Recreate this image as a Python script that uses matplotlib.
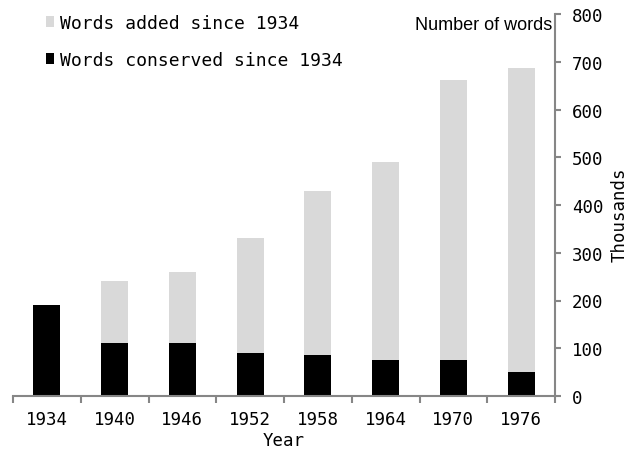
import matplotlib
matplotlib.use("Agg")
import matplotlib.pyplot as plt
import numpy as np

years = ["1934", "1940", "1946", "1952", "1958", "1964", "1970", "1976"]
totals = [190, 240, 260, 330, 430, 490, 662, 686]
conserved = [190, 110, 112, 90, 85, 75, 75, 50]
added = [t - c for t, c in zip(totals, conserved)]
yticks = [0, 100, 200, 300, 400, 500, 600, 700, 800]

mono = ["DejaVu Sans Mono"]
axis_gray = "#868686"

fig = plt.figure(figsize=(6.38, 4.52), dpi=100)
ax = fig.add_axes([13/638, 1 - 397/452, (555 - 13)/638, (397 - 15)/452])

x = np.arange(len(years))
w = 0.4
b1 = ax.bar(x, conserved, width=w, color="black", label="Words conserved since 1934", zorder=2)
b2 = ax.bar(x, added, width=w, bottom=conserved, color="#d9d9d9", label="Words added since 1934", zorder=2)

ax.set_xlim(-0.5, len(years) - 0.5)
ax.set_ylim(0, 800)

for s in ["left", "top"]:
    ax.spines[s].set_visible(False)
for s in ["right", "bottom"]:
    ax.spines[s].set_color(axis_gray)
    ax.spines[s].set_linewidth(1.5)

ax.yaxis.tick_right()
ax.set_yticks(yticks)
ax.set_yticklabels([str(v) for v in yticks], fontfamily=mono, fontsize=12.5)
ax.tick_params(axis="y", direction="out", length=4, width=1.5, color=axis_gray, pad=8, left=False, right=True)

ax.set_xticks(x)
ax.set_xticklabels(years, fontfamily=mono, fontsize=12.5)
ax.tick_params(axis="x", which="major", length=0, pad=10)
ax.set_xticks(np.arange(-0.5, len(years)), minor=True)
ax.tick_params(axis="x", which="minor", direction="out", length=5, width=1.5, color=axis_gray)

ax.set_xlabel("Year", fontfamily=mono, fontsize=12.5, labelpad=2)

fig.text(620/638, 1 - 215/452, "Thousands", rotation=90, ha="center", va="center",
         fontfamily=mono, fontsize=12.5)
fig.text(552/638, 1 - 25/452, "Number of words", ha="right", va="center",
         fontfamily=["Liberation Sans"], fontsize=13)

leg = fig.legend(handles=[b2, b1], labels=["Words added since 1934", "Words conserved since 1934"],
                 loc="upper left", bbox_to_anchor=(46/638, 1 - 15/452), frameon=False,
                 prop={"family": mono, "size": 13}, handlelength=0.45, handleheight=0.55,
                 handletextpad=0.3, labelspacing=1.05, borderaxespad=0, borderpad=0)

fig.savefig("out.png", dpi=100)
